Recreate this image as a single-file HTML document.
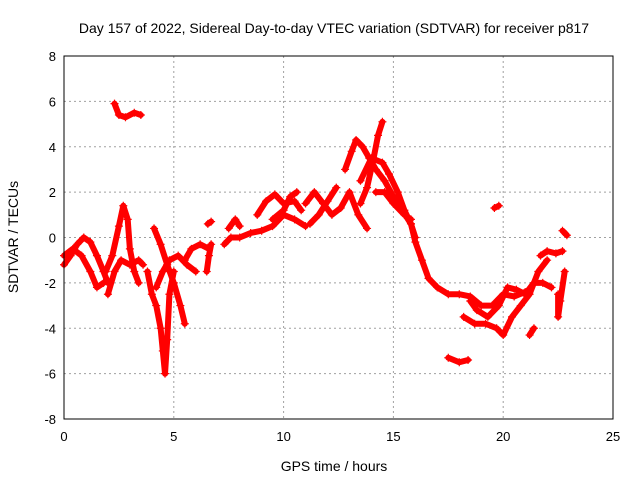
<!DOCTYPE html>
<html><head><meta charset="utf-8"><style>
html,body{margin:0;padding:0;background:#fff}
svg{display:block;font-family:"Liberation Sans",sans-serif}
</style></head><body>
<svg id="chart" width="640" height="480">
<text x="334" y="33" font-size="14" text-anchor="middle">Day 157 of 2022, Sidereal Day-to-day VTEC variation (SDTVAR) for receiver p817</text>
<g id="grid"></g>
<g id="ticks"></g>
<g id="series"></g>
<rect x="64" y="56" width="549" height="363" fill="none" stroke="#000" stroke-width="1"/>
<text x="334" y="471" font-size="14" text-anchor="middle">GPS time / hours</text>
<text x="18" y="237" font-size="14" text-anchor="middle" transform="rotate(-90 18 237)">SDTVAR / TECUs</text>
</svg>
<script>
const xTicks=[0,5,10,15,20,25];
const yTicks=[-8,-6,-4,-2,0,2,4,6,8];
const tracks=[
[[0,-1.2],[0.3,-0.8],[0.6,-0.3],[0.9,0],[1.2,-0.2],[1.5,-0.8],[1.8,-1.5],[2.0,-2.0]],
[[0,-0.8],[0.4,-0.5],[0.8,-0.8],[1.2,-1.5],[1.5,-2.2],[1.8,-2.0]],
[[1.9,-1.5],[2.2,-0.8],[2.5,0.5],[2.7,1.4],[2.9,0.8],[3.0,-0.5],[3.2,-1.5],[3.4,-2.0]],
[[2.0,-2.5],[2.3,-1.5],[2.6,-1.0],[3.0,-1.2],[3.4,-1.0],[3.6,-1.2]],
[[2.3,5.9],[2.5,5.4],[2.8,5.3],[3.2,5.5],[3.5,5.4]],
[[3.8,-1.5],[4.0,-2.5],[4.2,-3.0],[4.4,-4.0],[4.5,-5.0],[4.6,-6.0],[4.7,-4.5],[4.8,-2.5],[5.0,-1.5]],
[[4.1,0.4],[4.4,-0.3],[4.7,-1.2],[5.0,-2.0],[5.3,-3.0],[5.5,-3.8]],
[[4.2,-2.2],[4.5,-1.5],[4.8,-1.0],[5.2,-0.8],[5.6,-1.2],[6.0,-1.5]],
[[5.5,-1.0],[5.8,-0.5],[6.2,-0.3],[6.6,-0.5]],
[[6.5,-1.5],[6.6,-0.8],[6.7,-0.3]],
[[6.55,0.6],[6.7,0.7]],
[[7.3,-0.3],[7.6,0],[8,0],[8.5,0.2],[9,0.3],[9.5,0.5],[10,1.0],[10.5,0.8],[11,0.5]],
[[7.5,0.4],[7.8,0.8],[8.0,0.5]],
[[8.8,1.0],[9.2,1.6],[9.6,1.9],[10,1.5],[10.5,1.6],[10.8,1.2]],
[[9.5,0.8],[10,1.2],[10.3,1.8],[10.6,2.0]],
[[11.0,1.5],[11.4,2.0],[11.8,1.5],[12.2,1.0],[12.6,1.3],[13.0,2.0],[13.4,1.0],[13.8,0.4]],
[[11.2,0.6],[11.6,1.0],[12.0,1.6],[12.4,2.2]],
[[12.8,3.0],[13.1,3.8],[13.3,4.3],[13.6,4.0],[13.9,3.5],[14.2,3.0],[14.6,2.5],[15,1.8],[15.4,1.2],[15.8,0.6],[16.0,-0.2],[16.3,-1.0],[16.6,-1.8],[17,-2.2],[17.5,-2.5],[18,-2.5],[18.5,-2.6],[19,-3],[19.5,-3],[20,-2.5],[20.5,-2.6],[21,-2.4]],
[[13.5,1.5],[13.8,2.2],[14.1,3.5],[14.3,4.5],[14.5,5.1]],
[[13.5,2.5],[14,3.5],[14.5,3.3],[14.8,2.8],[15.2,2.0],[15.5,1.2],[15.8,0.6],[16.0,0]],
[[14.2,2.0],[14.6,2.0],[15,1.5],[15.5,1.0],[15.8,0.8]],
[[17.5,-5.3],[18.0,-5.5],[18.4,-5.4]],
[[19.6,1.3],[19.8,1.4]],
[[18.2,-3.5],[18.7,-3.8],[19.2,-3.8],[19.7,-4],[20.0,-4.3],[20.4,-3.5],[20.8,-3],[21.2,-2.5],[21.6,-1.5],[22.0,-1.0]],
[[18.5,-2.8],[18.8,-3.2],[19.3,-3.5],[19.8,-3.0],[20.2,-2.2],[20.6,-2.3],[21.0,-2.5],[21.4,-2.0],[21.8,-2.0],[22.2,-2.2]],
[[21.7,-0.8],[22,-0.6],[22.4,-0.7],[22.7,-0.6]],
[[22.5,-2.5],[22.5,-3.5],[22.6,-2.8],[22.8,-1.5]],
[[22.7,0.3],[22.9,0.1]],
[[21.2,-4.3],[21.4,-4.0]]
];
const NS='http://www.w3.org/2000/svg';
const X0=64,X1=613,Y0=419,Y1=56;
function sx(v){return X0+(v-0)/(25-0)*(X1-X0);}
function sy(v){return Y0-(v+8)/16*(Y0-Y1);}
function mk(t,a,p){const e=document.createElementNS(NS,t);for(const k in a)e.setAttribute(k,a[k]);p.appendChild(e);return e;}
const grid=document.getElementById('grid'),ticks=document.getElementById('ticks'),ser=document.getElementById('series');
xTicks.forEach(v=>{
 const x=sx(v);
 if(v>0&&v<25){const l=mk('line',{x1:x,x2:x,y1:Y1,y2:Y0,stroke:'#a0a0a0','stroke-dasharray':'2,3'},grid);
 
 }
 const t=mk('text',{x:x,y:Y0+22,'font-size':13,'text-anchor':'middle'},ticks);t.textContent=v;
 
 
});
yTicks.forEach(v=>{
 const y=sy(v);
 if(v>-8&&v<8){const l=mk('line',{x1:X0,x2:X1,y1:y,y2:y,stroke:'#a0a0a0','stroke-dasharray':'2,3'},grid);
 
 }
 const t=mk('text',{x:X0-8,y:y+5,'font-size':13,'text-anchor':'end'},ticks);t.textContent=v;
 
 
});
tracks.forEach((tr,i)=>{
 const pts=tr.map(p=>sx(p[0])+','+sy(p[1])).join(' ');
 const pl=mk('polyline',{points:pts,fill:'none',stroke:'#f00','stroke-width':6,'stroke-linejoin':'round','stroke-linecap':'round'},ser);
 
 
 tr.forEach(p=>{
  const x=sx(p[0]),y=sy(p[1]);
  const m=mk('path',{d:`M${x-4},${y}H${x+4}M${x},${y-4}V${y+4}`,stroke:'#f00','stroke-width':1.2},ser);
  
  
 });
});
</script>
</body></html>
